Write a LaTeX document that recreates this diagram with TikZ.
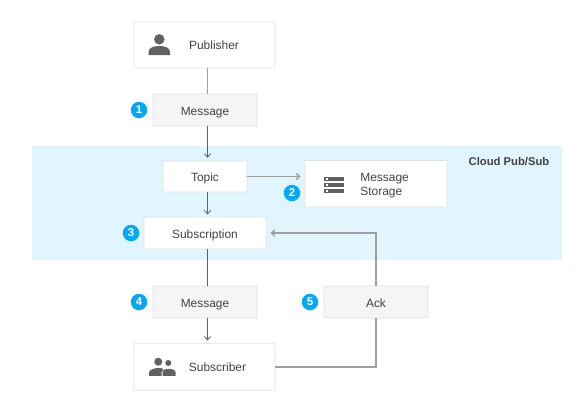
\documentclass[tikz,border=0pt]{standalone}
\usepackage{fontspec}
\setmainfont{Liberation Sans}
\usetikzlibrary{arrows.meta}
\definecolor{bandblue}{HTML}{E1F5FE}
\definecolor{badgeblue}{HTML}{03A9F4}
\definecolor{boxline}{HTML}{E0E0E0}
\definecolor{msgfill}{HTML}{F5F5F5}
\definecolor{inktext}{HTML}{424242}
\definecolor{iconfill}{HTML}{616161}
\definecolor{thinline}{HTML}{616161}
\definecolor{thickline}{HTML}{9E9E9E}
\tikzset{
  whitebox/.style={draw=boxline, fill=white, line width=0.5pt, rounded corners=0.3pt, inner sep=0pt, text=inktext, text height=6.3pt, text depth=0.2pt},
  msgbox/.style={whitebox, fill=msgfill, minimum width=2.08cm, minimum height=0.64cm},
  label/.style={inner sep=0pt, text=inktext, align=left},
  badge/.style={circle, fill=badgeblue, text=white, inner sep=0pt, minimum size=0.33cm, font=\fontsize{6.5pt}{7pt}\selectfont\bfseries},
  thin link/.style={draw=thinline, line width=0.45pt},
  thick link/.style={draw=thickline, line width=0.75pt},
  tip/.style={-{Straight Barb[length=2pt,width=3.6pt]}}
}
\begin{document}
\begin{tikzpicture}[font=\fontsize{6.8pt}{8pt}\selectfont]
      \useasboundingbox (0,0) rectangle (11.72,8.04);
      \fill[bandblue] (0.64,5.12) rectangle (11.24,2.84);

      \coordinate (spine) at (4.15,0);

      \node[whitebox, minimum width=2.82cm, minimum height=0.92cm] (publisher) at (4.09,7.14) {};
      \node[msgbox] (messageA) at (4.10,5.84) {Message};
      \node[whitebox, minimum width=1.68cm, minimum height=0.62cm] (topic) at (4.10,4.51) {Topic};
      \node[whitebox, minimum width=2.84cm, minimum height=0.93cm] (storage) at (7.52,4.365) {};
      \node[whitebox, minimum width=2.44cm, minimum height=0.64cm] (subscription) at (4.10,3.38) {Subscription};
      \node[msgbox] (messageB) at (4.10,2.00) {Message};
      \node[msgbox] (ack) at (7.52,2.00) {Ack};
      \node[whitebox, minimum width=2.82cm, minimum height=0.93cm] (subscriber) at (4.09,0.70) {};

      \node[label] (publisherText) at (4.28,7.14) {Publisher};
      \node[label, anchor=west] (storageText) at (7.20,4.33) {Message\\Storage};
      \node[label] (subscriberText) at (4.35,0.70) {Subscriber};
      \node[label, font=\fontsize{6.4pt}{8pt}\selectfont\bfseries] (cloud) at (10.18,4.80) {Cloud Pub/Sub};

      \node[badge] (one) at (2.78,5.84) {1};
      \node[badge] (two) at (5.84,4.18) {2};
      \node[badge] (three) at (2.62,3.38) {3};
      \node[badge] (four) at (2.78,2.00) {4};
      \node[badge] (five) at (6.20,2.00) {5};

      % publisher icon
      \fill[iconfill] (3.186,7.254) circle (0.105);
      \fill[iconfill] (2.97,6.94) -- (2.97,7.00) .. controls (2.97,7.09) and (3.08,7.12) .. (3.186,7.12)
        .. controls (3.29,7.12) and (3.40,7.09) .. (3.40,7.00) -- (3.40,6.94) -- cycle;

      % storage icon
      \foreach \y in {4.42,4.30,4.18} {
        \fill[iconfill] (6.48,\y) rectangle (6.88,\y+0.08);
        \fill[white] (6.51,\y+0.025) rectangle (6.55,\y+0.055);
      }

      % subscriber icon
      \fill[iconfill] (3.166,0.806) circle (0.08);
      \fill[iconfill] (3.366,0.78) circle (0.06);
      \fill[iconfill] (2.98,0.525) -- (2.98,0.59) .. controls (2.98,0.65) and (3.10,0.68) .. (3.166,0.68)
        .. controls (3.20,0.68) and (3.24,0.675) .. (3.27,0.66) -- (3.234,0.60) -- (3.234,0.525) -- cycle;
      \fill[iconfill] (3.25,0.525) -- (3.25,0.60) .. controls (3.25,0.645) and (3.33,0.665) .. (3.37,0.665)
        .. controls (3.42,0.665) and (3.51,0.645) .. (3.51,0.60) -- (3.51,0.525) -- cycle;

      \draw[thick link] (publisher.south -| spine) -- (messageA.north -| spine);
      \draw[thin link, tip, shorten >=1.6pt] (messageA.south -| spine) -- (topic.north -| spine);
      \draw[thin link, tip, shorten >=1.2pt] (topic.south -| spine) -- (subscription.north -| spine);
      \draw[thin link] (subscription.south -| spine) -- (messageB.north -| spine);
      \draw[thin link, tip, shorten >=1.6pt] (messageB.south -| spine) -- (subscriber.north -| spine);
      \draw[thick link, tip, shorten >=2.3pt] (topic.east) -- (topic.east -| storage.west);
      \draw[thick link] (subscriber.east) -| (ack.south);
      \draw[thick link, tip, shorten >=2.3pt] (ack.north) |- (subscription.east);
    \end{tikzpicture}
\end{document}
